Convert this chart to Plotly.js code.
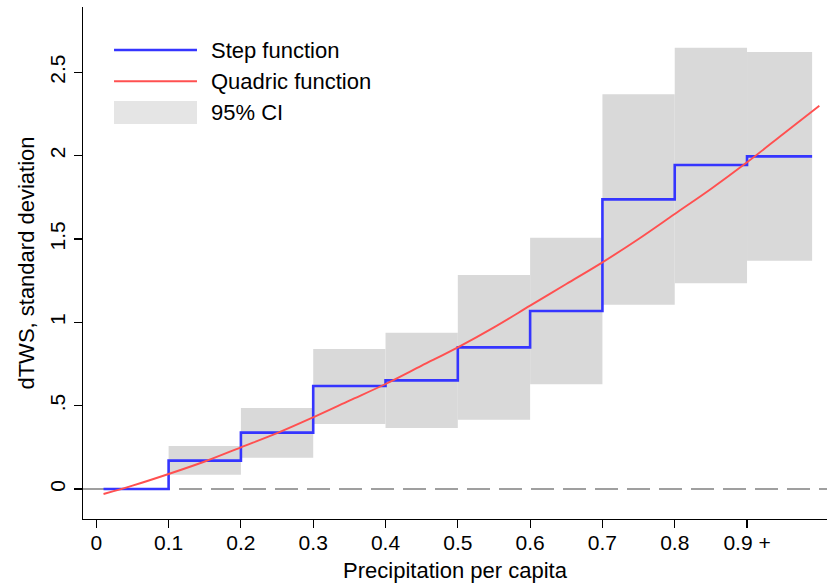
<!DOCTYPE html>
<html>
<head>
<meta charset="utf-8">
<script src="https://cdn.plot.ly/plotly-3.0.1.min.js"></script>
<style>
html,body{margin:0;padding:0;background:#fff;}
#chart{width:827px;height:588px;}
</style>
</head>
<body>
<div id="chart"></div>
<script>
// Bins of precipitation per capita (left edge, right edge)
var binLeft  = [0.1, 0.2, 0.3, 0.4, 0.5, 0.6, 0.7, 0.8, 0.9];
var binRight = [0.2, 0.3, 0.4, 0.5, 0.6, 0.7, 0.8, 0.9, 0.99];
// 95% CI bounds per bin
var ciLow  = [0.086, 0.188, 0.390, 0.366, 0.416, 0.628, 1.106, 1.234, 1.370];
var ciHigh = [0.258, 0.486, 0.840, 0.938, 1.284, 1.508, 2.368, 2.648, 2.622];
// Step function (value from each x until the next x)
var stepX = [0.01, 0.1, 0.2, 0.3, 0.4, 0.5, 0.6, 0.7, 0.8, 0.9, 0.99];
var stepY = [0, 0.170, 0.338, 0.618, 0.652, 0.850, 1.068, 1.738, 1.944, 1.996, 1.996];
// Quadric function, points
var quadX = [0.01, 0.05, 0.1, 0.15, 0.2, 0.25, 0.3, 0.35, 0.4, 0.45, 0.5, 0.55, 0.6, 0.65, 0.7, 0.75, 0.8, 0.85, 0.9, 0.95, 1.0];
var quadY = [-0.03, 0.02, 0.09, 0.165, 0.25, 0.335, 0.43, 0.53, 0.63, 0.74, 0.85, 0.97, 1.10, 1.23, 1.36, 1.50, 1.65, 1.80, 1.96, 2.13, 2.30];
// Axis ticks
var xTickVals = [0, 0.1, 0.2, 0.3, 0.4, 0.5, 0.6, 0.7, 0.8, 0.9];
var xTickText = ["0", "0.1", "0.2", "0.3", "0.4", "0.5", "0.6", "0.7", "0.8", "0.9 +"];
var yTickVals = [0, 0.5, 1, 1.5, 2, 2.5];
var yTickText = ["0", ".5", "1", "1.5", "2", "2.5"];
var legendLabels = ["Step function", "Quadric function", "95% CI"];

var FONT = "Liberation Sans, Arial, sans-serif";
var BLUE = "#3535ff", RED = "#ff5050", GREY = "#d9d9d9";

var widths = binLeft.map(function(l, i){ return binRight[i] - l; });
var heights = ciHigh.map(function(h, i){ return h - ciLow[i]; });

var traces = [
  {type: "bar", x: binLeft, y: heights, base: ciLow, width: widths, offset: 0,
   marker: {color: GREY, line: {width: 0}}, name: legendLabels[2], hoverinfo: "skip"},
  {type: "scatter", mode: "lines", x: stepX, y: stepY, line: {shape: "hv", color: BLUE, width: 2.6},
   name: legendLabels[0]},
  {type: "scatter", mode: "lines", x: quadX, y: quadY, line: {shape: "spline", color: RED, width: 1.9},
   name: legendLabels[1]}
];

var L = {x0: 0.0417, x1: 0.1532, tx: 0.1694};
var layout = {
  width: 827, height: 588,
  margin: {l: 83, r: 0, t: 7, b: 69},
  paper_bgcolor: "#fff", plot_bgcolor: "#fff",
  showlegend: false,
  font: {family: FONT, size: 21, color: "#000"},
  xaxis: {
    range: [-0.0184, 1.0106], tickvals: xTickVals, ticktext: xTickText,
    showline: true, linecolor: "#000", linewidth: 1.3, ticks: "outside", ticklen: 8, tickwidth: 1.1, tickcolor: "#000",
    showgrid: false, zeroline: false, tickfont: {size: 21}, ticklabelstandoff: -4,
    title: {text: "Precipitation per capita", font: {size: 22}, standoff: 10}
  },
  yaxis: {
    range: [-0.18, 2.892], tickvals: yTickVals, ticktext: yTickText, tickangle: -90,
    showline: true, linecolor: "#000", linewidth: 1.3, ticks: "outside", ticklen: 8, tickwidth: 1.1, tickcolor: "#000",
    showgrid: false, zeroline: false, tickfont: {size: 21},
    title: {text: "dTWS, standard deviation", font: {size: 22}, standoff: 5}
  },
  shapes: [
    {type: "line", xref: "paper", yref: "y", x0: 0, x1: 1, y0: 0, y1: 0, layer: "below",
     line: {color: "#808080", width: 1.6, dash: "23px,9px"}},
    {type: "line", xref: "paper", yref: "paper", x0: L.x0, x1: L.x1, y0: 0.916, y1: 0.916, line: {color: BLUE, width: 2.6}},
    {type: "line", xref: "paper", yref: "paper", x0: L.x0, x1: L.x1, y0: 0.855, y1: 0.855, line: {color: RED, width: 1.9}},
    {type: "rect", xref: "paper", yref: "paper", x0: L.x0, x1: L.x1, y0: 0.7715, y1: 0.8164, fillcolor: "#e5e5e5", line: {width: 0}}
  ],
  annotations: [
    {xref: "paper", yref: "paper", x: L.tx, y: 0.916, text: legendLabels[0], showarrow: false, xanchor: "left", yanchor: "middle", font: {size: 22}},
    {xref: "paper", yref: "paper", x: L.tx, y: 0.855, text: legendLabels[1], showarrow: false, xanchor: "left", yanchor: "middle", font: {size: 22}},
    {xref: "paper", yref: "paper", x: L.tx, y: 0.794, text: legendLabels[2], showarrow: false, xanchor: "left", yanchor: "middle", font: {size: 22}}
  ]
};

Plotly.newPlot("chart", traces, layout, {displayModeBar: false, staticPlot: true});
</script>
</body>
</html>
